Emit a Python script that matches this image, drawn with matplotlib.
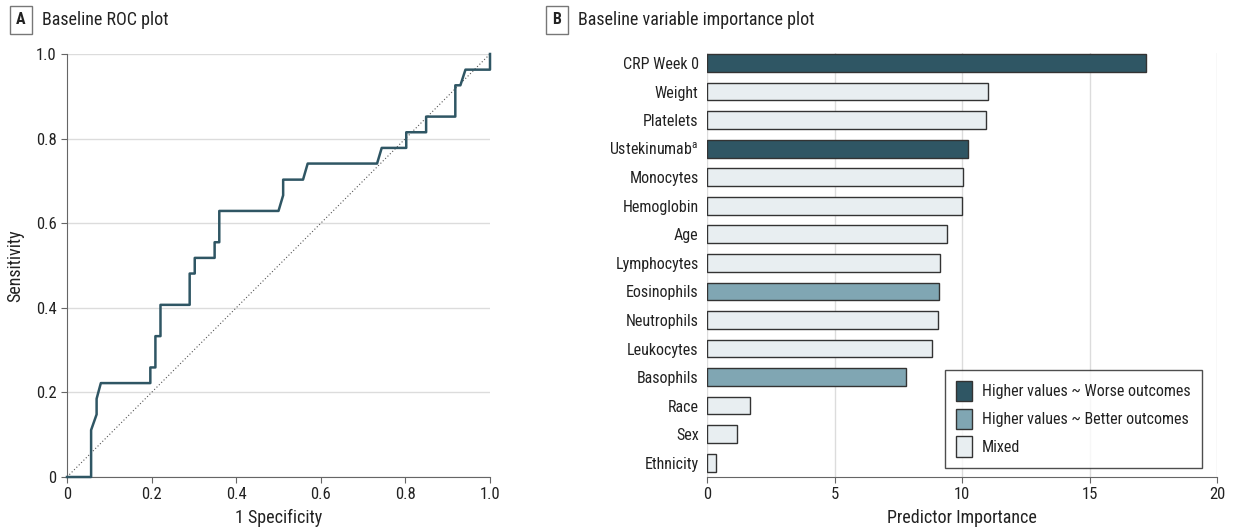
import numpy as np
import matplotlib
matplotlib.use("Agg")
import matplotlib.pyplot as plt
from matplotlib.patches import Patch

plt.rcParams['font.family'] = ['Roboto Condensed', 'DejaVu Sans']
plt.rcParams['font.stretch'] = 'condensed'

# ROC curve
fpr = [0.0, 0.057, 0.057, 0.070, 0.070, 0.080, 0.197, 0.197, 0.209, 0.209, 0.221, 0.221,
       0.290, 0.290, 0.302, 0.302, 0.349, 0.349, 0.360, 0.360, 0.500, 0.511, 0.511, 0.558,
       0.569, 0.733, 0.744, 0.802, 0.802, 0.849, 0.849, 0.918, 0.918, 0.930, 0.942, 1.0, 1.0]
tpr = [0.0, 0.0, 0.111, 0.148, 0.185, 0.222, 0.222, 0.259, 0.259, 0.333, 0.333, 0.407,
       0.407, 0.481, 0.481, 0.518, 0.518, 0.555, 0.555, 0.629, 0.629, 0.666, 0.703, 0.703,
       0.741, 0.741, 0.778, 0.778, 0.815, 0.815, 0.852, 0.852, 0.926, 0.926, 0.963, 0.963, 1.0]

# variable importance
variables = ["CRP Week 0", "Weight", "Platelets", "Ustekinumab$^{\\mathregular{a}}$", "Monocytes",
             "Hemoglobin", "Age", "Lymphocytes", "Eosinophils", "Neutrophils",
             "Leukocytes", "Basophils", "Race", "Sex", "Ethnicity"]
importance = [17.2, 11.0, 10.94, 10.22, 10.05, 10.0, 9.40, 9.13, 9.11, 9.04, 8.84, 7.80,
              1.68, 1.16, 0.34]
groups = ["worse", "mixed", "mixed", "worse", "mixed", "mixed", "mixed", "mixed", "better",
          "mixed", "mixed", "better", "mixed", "mixed", "mixed"]
group_labels = {"worse": "Higher values ~ Worse outcomes",
                "better": "Higher values ~ Better outcomes",
                "mixed": "Mixed"}

colors = {"worse": "#2f5664", "better": "#80a6b3", "mixed": "#e8eef1"}
dark = "#2f5664"
txt = "#222222"
grid_c = "#dcdcdc"
fs = 11.5
fs_lab = 13

fig = plt.figure(figsize=(12.34, 5.31), dpi=100)
W, H = 1234, 531

# ---- panel A
ax1 = fig.add_axes([67 / W, (H - 477) / H, (490 - 67) / W, (477 - 54) / H])
ax1.plot([0, 1], [0, 1], linestyle=(0, (1, 2)), color="#555555", lw=0.8)
ax1.plot(fpr, tpr, color=dark, lw=1.8, clip_on=False, zorder=3)
ax1.set_xlim(0, 1)
ax1.set_ylim(0, 1)
ticks = [0, 0.2, 0.4, 0.6, 0.8, 1.0]
ticklab = ["0", "0.2", "0.4", "0.6", "0.8", "1.0"]
ax1.set_xticks(ticks, ticklab)
ax1.set_yticks(ticks, ticklab)
ax1.yaxis.grid(True, color=grid_c, lw=1)
ax1.set_axisbelow(True)
for s in ["top", "right"]:
    ax1.spines[s].set_visible(False)
for s in ["left", "bottom"]:
    ax1.spines[s].set_color("#666666")
ax1.tick_params(colors="#666666", labelcolor=txt, labelsize=12, length=4)
ax1.set_xlabel("1 Specificity", fontsize=fs_lab, color=txt, labelpad=5)
ax1.set_ylabel("Sensitivity", fontsize=fs_lab, color=txt, labelpad=8)

# ---- panel B
ax2 = fig.add_axes([707 / W, (H - 477) / H, 510 / W, (477 - 53) / H])
y = np.arange(len(variables))
ax2.barh(y, importance, height=0.62, color=[colors[g] for g in groups],
         edgecolor="#333333", linewidth=1, zorder=3)
ax2.set_yticks(y, variables)
ax2.set_ylim(14.5, -0.35)
ax2.set_xlim(0, 20)
ax2.set_xticks([0, 5, 10, 15, 20])
ax2.xaxis.grid(True, color=grid_c, lw=1)
ax2.set_axisbelow(True)
for s in ["top", "right", "left"]:
    ax2.spines[s].set_visible(False)
ax2.spines["bottom"].set_color("#666666")
ax2.tick_params(axis="x", colors="#666666", labelcolor=txt, labelsize=12, length=4)
ax2.tick_params(axis="y", length=0, labelcolor=txt, labelsize=fs, pad=6)
ax2.set_xlabel("Predictor Importance", fontsize=fs_lab, color=txt, labelpad=5)

handles = [Patch(facecolor=colors[k], edgecolor="#333333", label=group_labels[k])
           for k in ["worse", "better", "mixed"]]
leg = ax2.legend(handles=handles, loc="lower right", bbox_to_anchor=(0.97, 0.021),
                 fancybox=False, frameon=True, fontsize=fs, handlelength=1.0,
                 handleheight=1.6, borderpad=0.7, labelspacing=0.45, handletextpad=0.6,
                 borderaxespad=0)
leg.get_frame().set_edgecolor("#222222")
leg.get_frame().set_linewidth(1)
for t in leg.get_texts():
    t.set_color(txt)

# panel labels
box = dict(boxstyle="square,pad=0.4", facecolor="white", edgecolor="#777777", lw=1)
fig.text(21 / W, 1 - 20 / H, "A", fontsize=11.5, fontweight="bold", color=txt,
         ha="center", va="center", bbox=box)
fig.text(42 / W, 1 - 20 / H, "Baseline ROC plot", fontsize=fs_lab, color=txt, va="center")
fig.text(557 / W, 1 - 20 / H, "B", fontsize=11.5, fontweight="bold", color=txt,
         ha="center", va="center", bbox=box)
fig.text(578 / W, 1 - 20 / H, "Baseline variable importance plot", fontsize=fs_lab,
         color=txt, va="center")

fig.savefig("out.png", dpi=100)
